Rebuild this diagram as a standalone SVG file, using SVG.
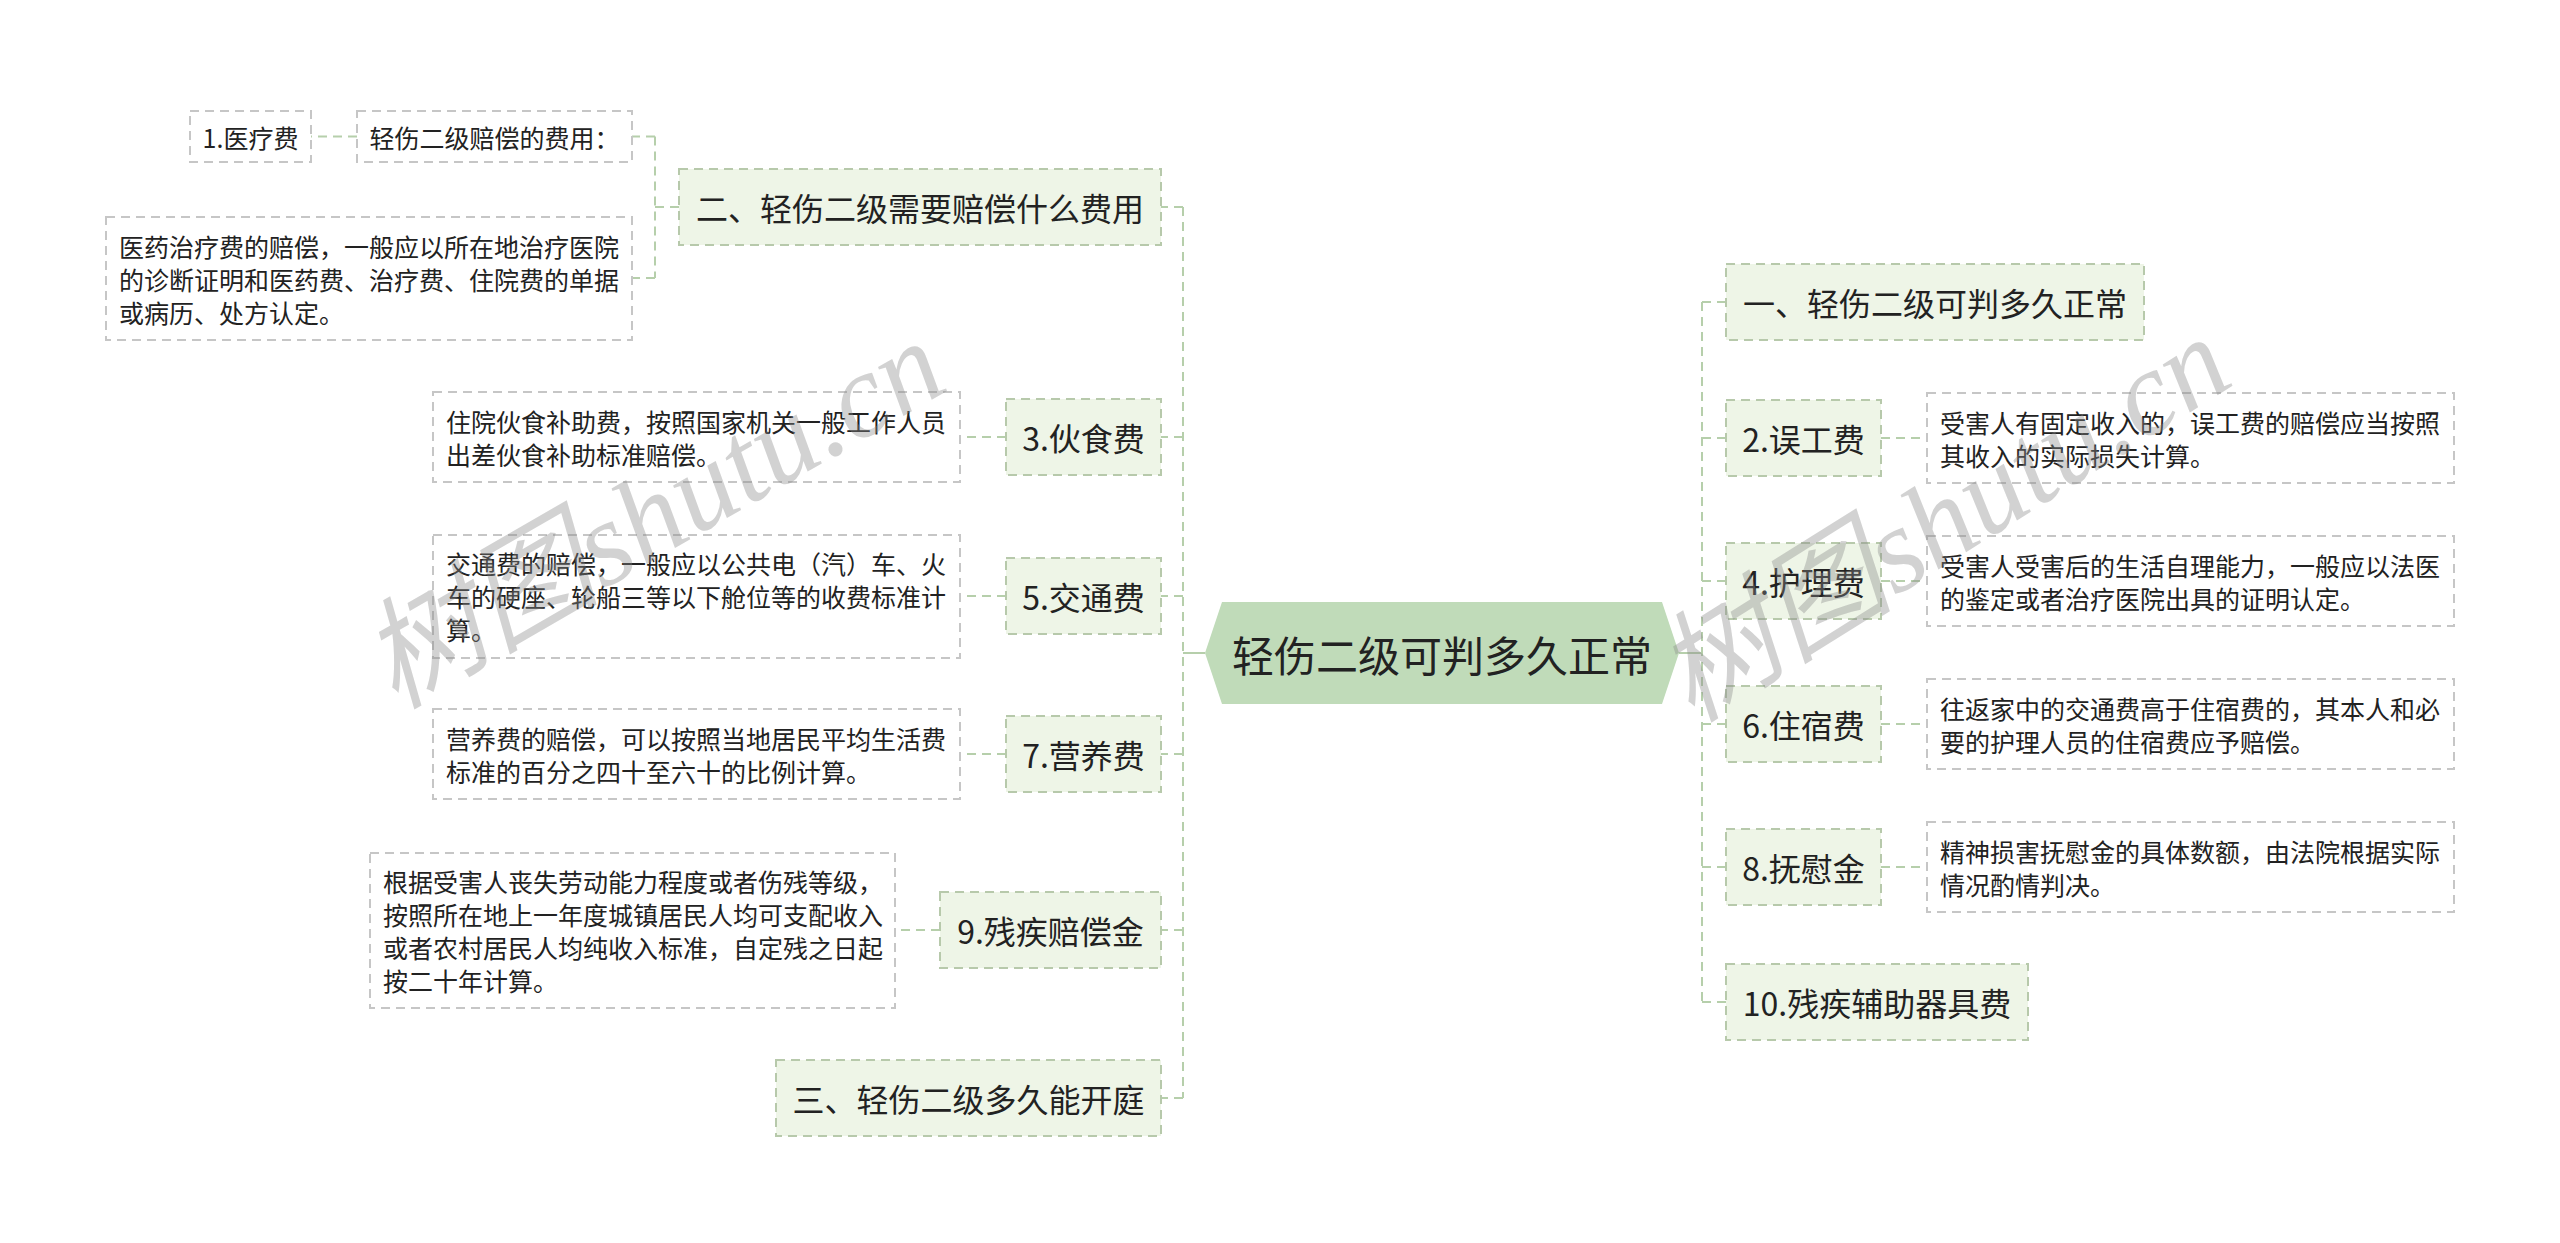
<svg xmlns="http://www.w3.org/2000/svg" width="2560" height="1243" viewBox="0 0 2560 1243">
<style>
text{font-family:"Noto Sans CJK SC","Noto Sans",sans-serif;fill:#222}
.node{fill:#eef5e7;stroke:#b7c9ab;stroke-width:2;stroke-dasharray:9 6}
.desc{fill:#ffffff;stroke:#c6c6c6;stroke-width:2;stroke-dasharray:9 6}
.nt{font-size:32px;text-anchor:middle;dominant-baseline:central}
.dt{font-size:25px;dominant-baseline:central}
.st{font-size:25px;text-anchor:middle;dominant-baseline:central}
.conn{fill:none;stroke:#b6cfab;stroke-width:2;stroke-dasharray:9 6}
.solid{fill:none;stroke:#b6cfab;stroke-width:2}
.wm{font-family:"Liberation Serif","Noto Sans CJK SC",serif;font-style:italic;font-size:120px;fill:#8a8a8a;fill-opacity:0.38;text-anchor:middle;dominant-baseline:central}
</style>
<rect width="2560" height="1243" fill="#ffffff"/>
<g id="connectors">
<path class="solid" d="M1205 653H1183"/>
<path class="conn" d="M1183 207V1098"/>
<path class="conn" d="M1183 207H1161M1183 437H1161M1183 596H1161M1183 754H1161M1183 930H1161M1183 1098H1161"/>
<path class="solid" d="M1679 653H1702"/>
<path class="conn" d="M1702 302V1002"/>
<path class="conn" d="M1702 302H1726M1702 438H1726M1702 581H1726M1702 724H1726M1702 867H1726M1702 1002H1726"/>
<path class="conn" d="M679 207H655M655 136.5V278M655 136.5H632M655 278H632M357 136.5H311"/>
<path class="conn" d="M1006 437H960M1006 596H960M1006 754H960M940 930H895"/>
<path class="conn" d="M1881 438H1927M1881 581H1927M1881 724H1927M1881 867H1927"/>
</g>
<g id="central">
<polygon points="1205,653 1222,602 1662,602 1679,653 1662,704 1222,704" fill="#c0dbb9"/>
<text x="1442" y="653" font-size="42" text-anchor="middle" dominant-baseline="central">轻伤二级可判多久正常</text>
</g>
<g id="n-er">
<rect class="node" x="679" y="169" width="482" height="76"/>
<text class="nt" x="920" y="207">二、轻伤二级需要赔偿什么费用</text>
</g>
<g id="n-er-fee">
<rect class="desc" x="357" y="111" width="275" height="51"/>
<text class="st" x="494.5" y="136.5">轻伤二级赔偿的费用：</text>
</g>
<g id="n-yiliao">
<rect class="desc" x="190" y="111" width="121" height="51"/>
<text class="st" x="250.5" y="136.5">1.医疗费</text>
</g>
<g id="d-yiliao">
<rect class="desc" x="106" y="217" width="526" height="123"/>
<text class="dt" x="119" y="245.5">医药治疗费的赔偿，一般应以所在地治疗医院</text>
<text class="dt" x="119" y="278.5">的诊断证明和医药费、治疗费、住院费的单据</text>
<text class="dt" x="119" y="311.5">或病历、处方认定。</text>
</g>
<g id="n-3">
<rect class="node" x="1006" y="399" width="155" height="76"/>
<text class="nt" x="1083.5" y="437">3.伙食费</text>
</g>
<g id="d-3">
<rect class="desc" x="433" y="392" width="527" height="90"/>
<text class="dt" x="446" y="420.5">住院伙食补助费，按照国家机关一般工作人员</text>
<text class="dt" x="446" y="453.5">出差伙食补助标准赔偿。</text>
</g>
<g id="n-5">
<rect class="node" x="1006" y="558" width="155" height="76"/>
<text class="nt" x="1083.5" y="596">5.交通费</text>
</g>
<g id="d-5">
<rect class="desc" x="433" y="535" width="527" height="123"/>
<text class="dt" x="446" y="563">交通费的赔偿，一般应以公共电（汽）车、火</text>
<text class="dt" x="446" y="596">车的硬座、轮船三等以下舱位等的收费标准计</text>
<text class="dt" x="446" y="629">算。</text>
</g>
<g id="n-7">
<rect class="node" x="1006" y="716" width="155" height="76"/>
<text class="nt" x="1083.5" y="754">7.营养费</text>
</g>
<g id="d-7">
<rect class="desc" x="433" y="709" width="527" height="90"/>
<text class="dt" x="446" y="737.5">营养费的赔偿，可以按照当地居民平均生活费</text>
<text class="dt" x="446" y="770.5">标准的百分之四十至六十的比例计算。</text>
</g>
<g id="n-9">
<rect class="node" x="940" y="892" width="221" height="76"/>
<text class="nt" x="1050.5" y="930">9.残疾赔偿金</text>
</g>
<g id="d-9">
<rect class="desc" x="370" y="853" width="525" height="155"/>
<text class="dt" x="383" y="880.5">根据受害人丧失劳动能力程度或者伤残等级，</text>
<text class="dt" x="383" y="913.5">按照所在地上一年度城镇居民人均可支配收入</text>
<text class="dt" x="383" y="946.5">或者农村居民人均纯收入标准，自定残之日起</text>
<text class="dt" x="383" y="979.5">按二十年计算。</text>
</g>
<g id="n-san">
<rect class="node" x="776" y="1060" width="385" height="76"/>
<text class="nt" x="968.5" y="1098">三、轻伤二级多久能开庭</text>
</g>
<g id="n-yi">
<rect class="node" x="1726" y="264" width="418" height="76"/>
<text class="nt" x="1935" y="302">一、轻伤二级可判多久正常</text>
</g>
<g id="n-2">
<rect class="node" x="1726" y="400" width="155" height="76"/>
<text class="nt" x="1803.5" y="438">2.误工费</text>
</g>
<g id="d-2">
<rect class="desc" x="1927" y="393" width="527" height="90"/>
<text class="dt" x="1940" y="421.5">受害人有固定收入的，误工费的赔偿应当按照</text>
<text class="dt" x="1940" y="454.5">其收入的实际损失计算。</text>
</g>
<g id="n-4">
<rect class="node" x="1726" y="543" width="155" height="76"/>
<text class="nt" x="1803.5" y="581">4.护理费</text>
</g>
<g id="d-4">
<rect class="desc" x="1927" y="536" width="527" height="90"/>
<text class="dt" x="1940" y="564.5">受害人受害后的生活自理能力，一般应以法医</text>
<text class="dt" x="1940" y="597.5">的鉴定或者治疗医院出具的证明认定。</text>
</g>
<g id="n-6">
<rect class="node" x="1726" y="686" width="155" height="76"/>
<text class="nt" x="1803.5" y="724">6.住宿费</text>
</g>
<g id="d-6">
<rect class="desc" x="1927" y="679" width="527" height="90"/>
<text class="dt" x="1940" y="707.5">往返家中的交通费高于住宿费的，其本人和必</text>
<text class="dt" x="1940" y="740.5">要的护理人员的住宿费应予赔偿。</text>
</g>
<g id="n-8">
<rect class="node" x="1726" y="829" width="155" height="76"/>
<text class="nt" x="1803.5" y="867">8.抚慰金</text>
</g>
<g id="d-8">
<rect class="desc" x="1927" y="822" width="527" height="90"/>
<text class="dt" x="1940" y="850.5">精神损害抚慰金的具体数额，由法院根据实际</text>
<text class="dt" x="1940" y="883.5">情况酌情判决。</text>
</g>
<g id="n-10">
<rect class="node" x="1726" y="964" width="302" height="76"/>
<text class="nt" x="1877" y="1002">10.残疾辅助器具费</text>
</g>
<g id="watermark">
<text class="wm" transform="rotate(-30 653 514)" x="653" y="514">树图shutu.cn</text>
<text class="wm" transform="rotate(-32 1943 519)" x="1943" y="519">树图shutu.cn</text>
</g>
</svg>
